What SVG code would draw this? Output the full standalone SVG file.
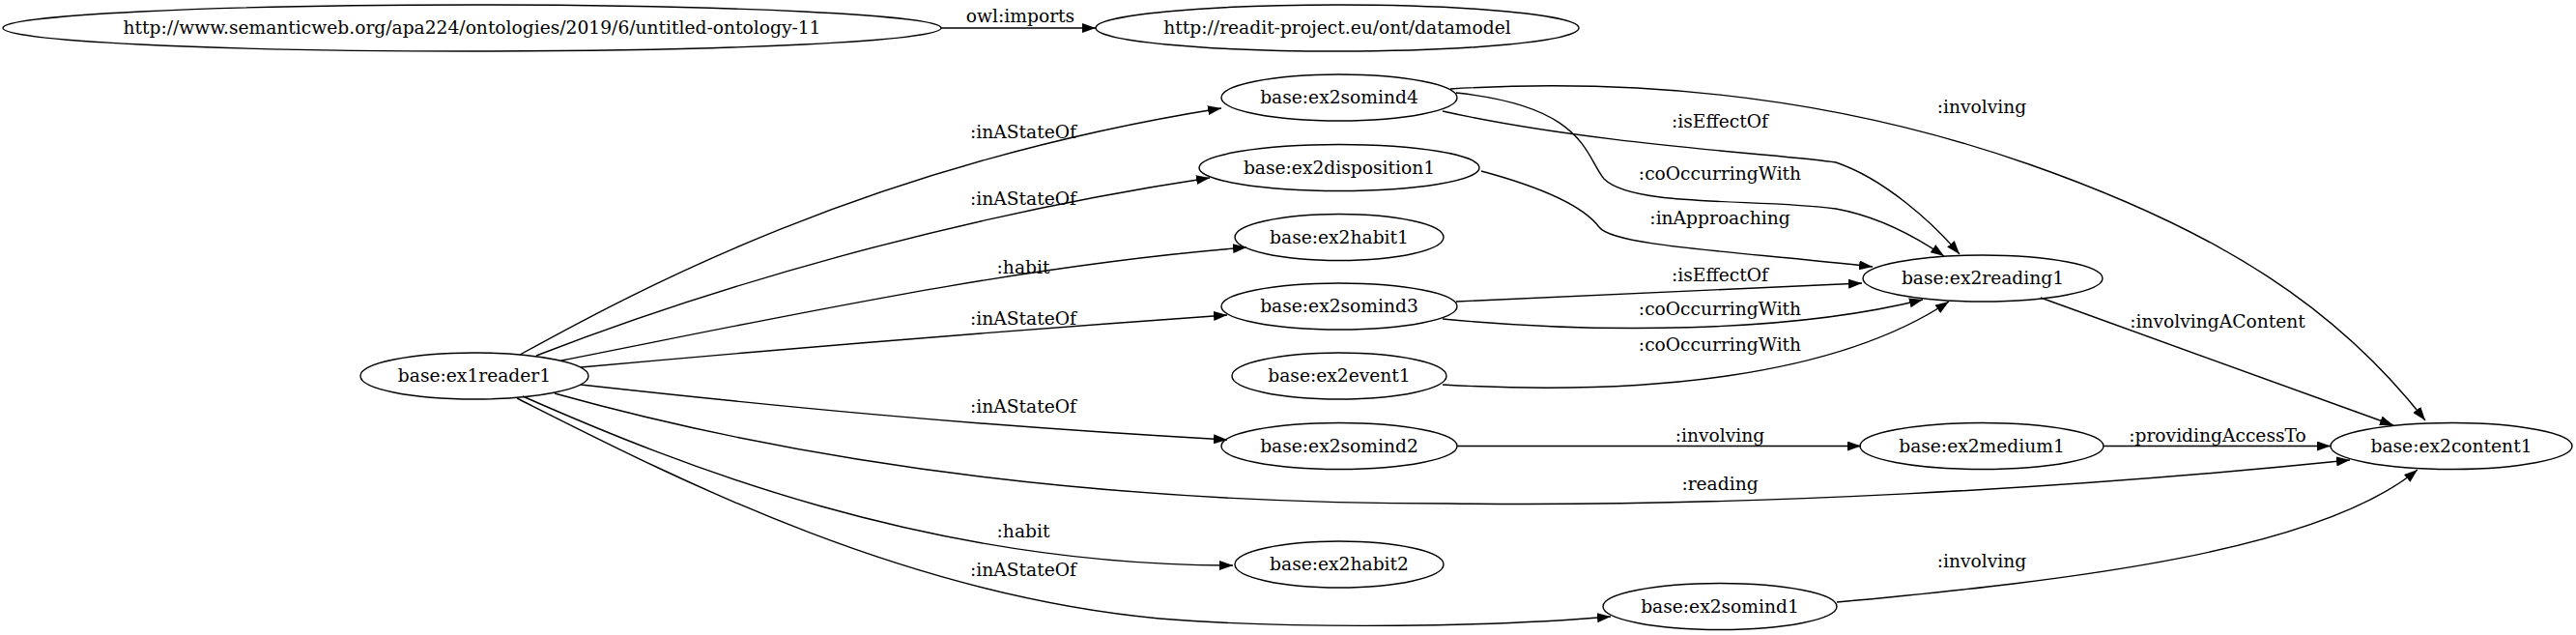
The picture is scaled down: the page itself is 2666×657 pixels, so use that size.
<svg xmlns="http://www.w3.org/2000/svg" width="2666" height="657" viewBox="0 0 2666 657">
<defs>
<marker id="arr" viewBox="0 0 14 10" refX="14" refY="5" markerWidth="14" markerHeight="10" markerUnits="userSpaceOnUse" orient="auto">
<path d="M0,0 L14,5 L0,10 z" fill="#000"/>
</marker>
</defs>
<style>
.n ellipse{fill:none;stroke:#000;stroke-width:1.4}
text{font-family:"DejaVu Serif","Liberation Serif",serif;font-size:18.67px;fill:#000;text-anchor:middle}
.e path{fill:none;stroke:#000;stroke-width:1.4;marker-end:url(#arr)}
</style>
<rect width="2666" height="657" fill="#fff"/>
<g id="edges" class="e">
<path d="M974,29 L1134,29"/>
<path d="M538,367 C660,300 900,170 1264,112"/>
<path d="M555,368 C730,300 980,225 1252,184"/>
<path d="M581,373 C800,330 1050,275 1290,256"/>
<path d="M601,380 C800,362 1000,345 1270,326"/>
<path d="M601,398 C800,420 1000,440 1270,455"/>
<path d="M574,407 C800,470 1100,521 1500,521 C1800,525 2150,505 2432,476"/>
<path d="M541,410 C700,480 960,585 1276,585"/>
<path d="M535,412 C690,490 930,615 1200,640 C1350,652 1550,648 1667,638"/>
<path d="M1493,115 C1650,150 1850,160 1900,168 C1950,185 2000,230 2028,263"/>
<path d="M1507,96 C1640,110 1640,160 1660,185 C1690,215 1820,205 1900,216 C1950,225 1990,250 2012,265"/>
<path d="M1501,92 C1700,80 1900,100 2100,170 C2300,240 2420,320 2510,435"/>
<path d="M1533,177 C1600,195 1640,215 1655,235 C1670,255 1800,260 1938,276"/>
<path d="M1507,312 L1927,293"/>
<path d="M1493,330 C1650,345 1850,345 1990,310"/>
<path d="M1493,398 C1700,410 1900,390 2017,312"/>
<path d="M2112,308 L2477,440"/>
<path d="M1508,461.5 L1926,461.5"/>
<path d="M2177,461.5 L2412,461.5"/>
<path d="M1901,623 C2150,600 2400,570 2502,486"/>
<text x="1056" y="23">owl:imports</text>
<text x="1059" y="143">:inAStateOf</text>
<text x="1059" y="212">:inAStateOf</text>
<text x="1059" y="283">:habit</text>
<text x="1059" y="336">:inAStateOf</text>
<text x="1059" y="427">:inAStateOf</text>
<text x="1059" y="556">:habit</text>
<text x="1059" y="596">:inAStateOf</text>
<text x="1780" y="132">:isEffectOf</text>
<text x="1780" y="186">:coOccurringWith</text>
<text x="1780" y="232">:inApproaching</text>
<text x="1780" y="291">:isEffectOf</text>
<text x="1780" y="326">:coOccurringWith</text>
<text x="1780" y="363">:coOccurringWith</text>
<text x="2051" y="117">:involving</text>
<text x="1780" y="457">:involving</text>
<text x="1780" y="507">:reading</text>
<text x="2051" y="587">:involving</text>
<text x="2295" y="339">:involvingAContent</text>
<text x="2295" y="457">:providingAccessTo</text>
</g>
<g id="ontology11" class="n"><ellipse cx="488.5" cy="29" rx="485.5" ry="24"/><text x="488.5" y="35">http://www.semanticweb.org/apa224/ontologies/2019/6/untitled-ontology-11</text></g>
<g id="datamodel" class="n"><ellipse cx="1384" cy="29" rx="250" ry="24"/><text x="1384" y="35">http://readit-project.eu/ont/datamodel</text></g>
<g id="ex1reader1" class="n"><ellipse cx="491" cy="389" rx="118" ry="24"/><text x="491" y="395">base:ex1reader1</text></g>
<g id="ex2somind4" class="n"><ellipse cx="1386" cy="101" rx="122" ry="24"/><text x="1386" y="107">base:ex2somind4</text></g>
<g id="ex2disposition1" class="n"><ellipse cx="1386" cy="173.5" rx="145" ry="24"/><text x="1386" y="179.5">base:ex2disposition1</text></g>
<g id="ex2habit1" class="n"><ellipse cx="1386" cy="245.5" rx="108" ry="24"/><text x="1386" y="251.5">base:ex2habit1</text></g>
<g id="ex2somind3" class="n"><ellipse cx="1386" cy="317" rx="122" ry="24"/><text x="1386" y="323">base:ex2somind3</text></g>
<g id="ex2event1" class="n"><ellipse cx="1386" cy="389" rx="111" ry="24"/><text x="1386" y="395">base:ex2event1</text></g>
<g id="ex2somind2" class="n"><ellipse cx="1386" cy="461.5" rx="122" ry="24"/><text x="1386" y="467.5">base:ex2somind2</text></g>
<g id="ex2habit2" class="n"><ellipse cx="1386" cy="584" rx="108" ry="24"/><text x="1386" y="590">base:ex2habit2</text></g>
<g id="ex2somind1" class="n"><ellipse cx="1780" cy="627.5" rx="121" ry="24"/><text x="1780" y="633.5">base:ex2somind1</text></g>
<g id="ex2reading1" class="n"><ellipse cx="2052" cy="288" rx="124" ry="24"/><text x="2052" y="294">base:ex2reading1</text></g>
<g id="ex2medium1" class="n"><ellipse cx="2051" cy="461.5" rx="126" ry="24"/><text x="2051" y="467.5">base:ex2medium1</text></g>
<g id="ex2content1" class="n"><ellipse cx="2537" cy="461.5" rx="125" ry="24"/><text x="2537" y="467.5">base:ex2content1</text></g>
</svg>
